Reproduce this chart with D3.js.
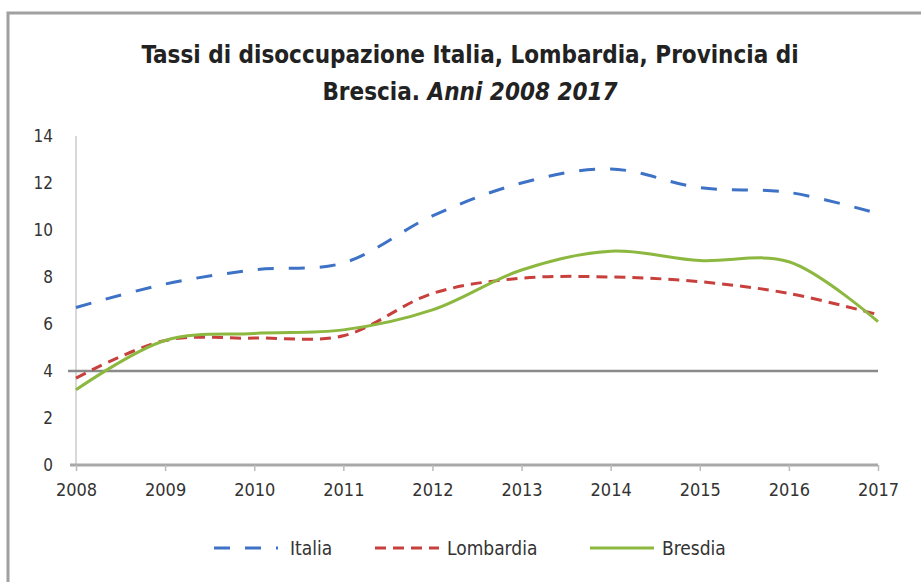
<!DOCTYPE html>
<html>
<head>
<meta charset="utf-8">
<script src="https://cdn.jsdelivr.net/npm/d3@7"></script>
<style>
  body { margin: 0; background: #fff; }
  text { font-family: "Liberation Sans Narrow", "DejaVu Sans Condensed", "Liberation Sans", sans-serif; }
</style>
</head>
<body>
<svg id="chart" width="921" height="582"></svg>
<script>
"use strict";

// Data
var years = [2008, 2009, 2010, 2011, 2012, 2013, 2014, 2015, 2016, 2017];
var italia    = [6.7, 7.7, 8.3, 8.6, 10.6, 12.0, 12.6, 11.8, 11.6, 10.7];
var lombardia = [3.7, 5.3, 5.4, 5.5, 7.3, 7.95, 8.0, 7.8, 7.3, 6.4];
var brescia   = [3.2, 5.3, 5.6, 5.75, 6.6, 8.3, 9.1, 8.7, 8.65, 6.1];
var yTicks = [0, 2, 4, 6, 8, 10, 12, 14];

var series = [
    {name: "Italia", values: italia, color: "#3d72c6", dash: "16,15"},
    {name: "Lombardia", values: lombardia, color: "#c8403c", dash: "11,7"},
    {name: "Bresdia", values: brescia, color: "#8cb840", dash: null}
];

var svg = d3.select("#chart");

// outer frame
svg.append("rect")
    .attr("x", 8).attr("y", 13)
    .attr("width", 940).attr("height", 600)
    .attr("fill", "none")
    .attr("stroke", "#a0a0a0")
    .attr("stroke-width", 3);

// title
var title = svg.append("text")
    .attr("text-anchor", "middle")
    .attr("font-size", 24)
    .attr("font-weight", "bold")
    .attr("fill", "#222");
title.append("tspan").attr("x", 470).attr("y", 63)
    .text("Tassi di disoccupazione  Italia, Lombardia, Provincia di");
var t2 = title.append("tspan").attr("x", 470).attr("y", 100);
t2.append("tspan").text("Brescia. ");
t2.append("tspan").attr("font-style", "italic").text("Anni 2008 2017");

var x = d3.scaleLinear().domain([2008, 2017]).range([76, 878]);
var y = d3.scaleLinear().domain([0, 14]).range([465, 136]);

// y axis line
svg.append("line")
    .attr("x1", x(2008)).attr("x2", x(2008))
    .attr("y1", y(14)).attr("y2", y(0))
    .attr("stroke", "#d8d8d8").attr("stroke-width", 2);

// y labels
svg.selectAll(".ylab")
    .data(yTicks)
    .enter().append("text")
    .attr("class", "ylab")
    .attr("x", 53)
    .attr("y", function(d) { return y(d) + 6; })
    .attr("text-anchor", "end")
    .attr("font-size", 17)
    .attr("fill", "#333")
    .text(function(d) { return d; });

// x axis
var xAxis = d3.axisBottom(x)
    .tickValues(years)
    .tickFormat(d3.format("d"))
    .tickSize(6)
    .tickPadding(12);

var gx = svg.append("g")
    .attr("transform", "translate(0," + y(0) + ")")
    .call(xAxis);
gx.select(".domain")
    .attr("d", "M" + (x(2008) - 6) + ",0H" + x(2017))
    .attr("stroke", "#a8a8a8").attr("stroke-width", 3);
gx.selectAll(".tick line").attr("stroke", "#bbb").attr("stroke-width", 1.5);
gx.selectAll(".tick text")
    .attr("font-size", 18)
    .attr("fill", "#333")
    .style("font-family", "\"Liberation Sans Narrow\", \"DejaVu Sans Condensed\", sans-serif");

// reference line at 4
svg.append("line")
    .attr("x1", x(2008) - 8).attr("x2", x(2017))
    .attr("y1", y(4)).attr("y2", y(4))
    .attr("stroke", "#8a8a8a").attr("stroke-width", 2.5);

// lines
var line = d3.line()
    .x(function(d, i) { return x(years[i]); })
    .y(function(d) { return y(d); })
    .curve(d3.curveCatmullRom.alpha(0.5));

svg.selectAll(".series")
    .data(series)
    .enter().append("path")
    .attr("class", "series")
    .attr("d", function(d) { return line(d.values); })
    .attr("fill", "none")
    .attr("stroke", function(d) { return d.color; })
    .attr("stroke-width", 3)
    .attr("stroke-dasharray", function(d) { return d.dash; });

// legend
var legendX = [214, 375, 590];
var textX = [290, 447, 662];
var lg = svg.selectAll(".legend")
    .data(series)
    .enter().append("g")
    .attr("class", "legend");
lg.append("line")
    .attr("x1", function(d, i) { return legendX[i]; })
    .attr("x2", function(d, i) { return legendX[i] + 64; })
    .attr("y1", 548).attr("y2", 548)
    .attr("stroke", function(d) { return d.color; })
    .attr("stroke-width", 3)
    .attr("stroke-dasharray", function(d) { return d.dash; });
lg.append("text")
    .attr("x", function(d, i) { return textX[i]; })
    .attr("y", 555)
    .attr("font-size", 19)
    .attr("fill", "#333")
    .text(function(d) { return d.name; });
</script>
</body>
</html>
